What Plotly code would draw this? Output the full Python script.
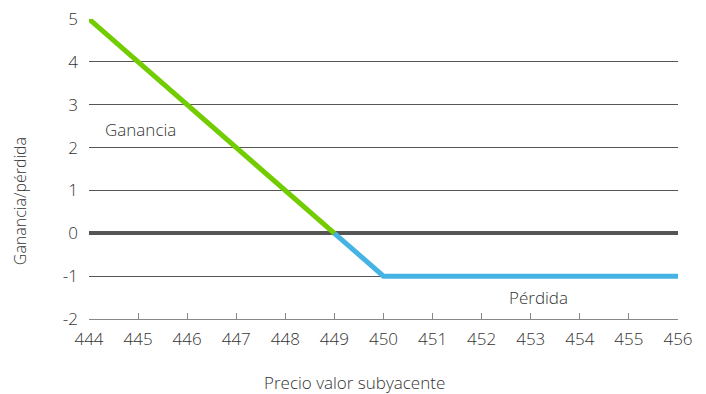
import plotly.graph_objects as go

# Datos del gráfico
precio_ganancia = [444, 449]
valor_ganancia = [5, 0]
precio_perdida = [449, 450, 456]
valor_perdida = [0, -1, -1]
ticks_x = list(range(444, 457))
ticks_y = [-2, -1, 0, 1, 2, 3, 4, 5]
etiquetas_y = ['-2', '-1', '0', '1', '2', '3', '4', '5']

verde = '#72cc00'
azul = '#45b4e4'
gris = '#555555'
texto = '#333333'
fuente = 'Open Sans'

fig = go.Figure()

fig.add_trace(go.Scatter(x=precio_ganancia, y=valor_ganancia, mode='lines',
                         line=dict(color=verde, width=5), showlegend=False))
fig.add_trace(go.Scatter(x=precio_perdida, y=valor_perdida, mode='lines',
                         line=dict(color=azul, width=5), showlegend=False))

fig.add_annotation(x=445.05, y=2.42, text='Ganancia', showarrow=False,
                   font=dict(family=fuente, size=17, color=texto, weight=300))
fig.add_annotation(x=453.15, y=-1.5, text='Pérdida', showarrow=False,
                   font=dict(family=fuente, size=17, color=texto, weight=300))

# títulos de ejes como anotaciones (no están centrados en el área del gráfico)
fig.add_annotation(xref='paper', yref='paper', x=-0.117, y=0.393, textangle=-90,
                   xanchor='center', yanchor='middle',
                   text='Ganancia/pérdida', showarrow=False,
                   font=dict(family=fuente, size=16, color=texto, weight=300))
fig.add_annotation(xref='paper', yref='paper', x=0.45, y=-0.213,
                   xanchor='center', yanchor='middle',
                   text='Precio valor subyacente', showarrow=False,
                   font=dict(family=fuente, size=17, color=texto, weight=300))

fig.update_xaxes(range=[444, 456], tickvals=ticks_x, showgrid=False, zeroline=False,
                 showline=True, linecolor='#888', linewidth=1,
                 ticks='inside', ticklen=6, tickcolor='#888',
                 ticklabelstandoff=5, automargin=False, ticklabeloverflow='allow',
                 tickfont=dict(family=fuente, size=17, color=texto, weight=300))
fig.update_yaxes(range=[-2, 5], tickvals=ticks_y, ticktext=etiquetas_y,
                 showgrid=True, gridcolor=gris, gridwidth=1,
                 zeroline=True, zerolinecolor=gris, zerolinewidth=4,
                 ticklabelstandoff=10, automargin=False, ticklabeloverflow='allow',
                 tickfont=dict(family=fuente, size=17, color=texto, weight=300))

fig.update_layout(width=706, height=394, plot_bgcolor='white', paper_bgcolor='white',
                  margin=dict(l=89, r=28, t=19, b=75), showlegend=False)

# quitar el margen de 8 px que el navegador pone al body
fig.write_html("out.html", config={'displayModeBar': False},
               post_script="document.body.style.margin='0';")
